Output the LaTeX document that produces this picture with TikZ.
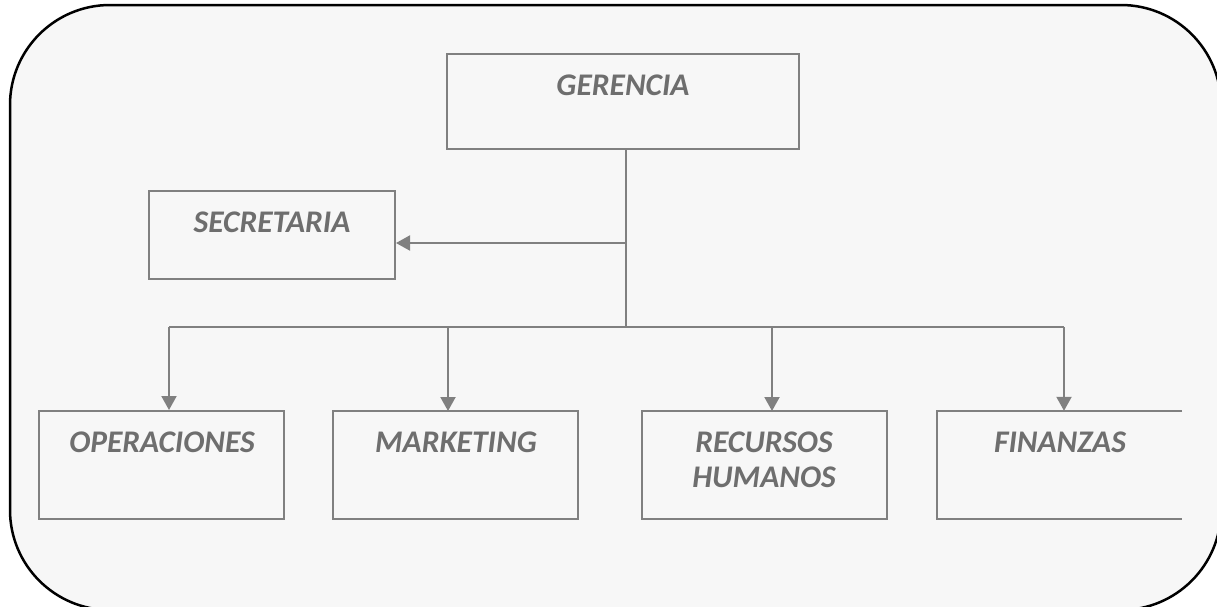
\documentclass[tikz,border=0pt]{standalone}
\usepackage{fontspec}
\setmainfont{Carlito}
\usetikzlibrary{arrows.meta}
\definecolor{bgfill}{HTML}{F7F7F7}
\definecolor{boxgray}{HTML}{808080}
\definecolor{txtgray}{HTML}{6E6E6E}
\tikzset{
  orgbox/.style={draw=boxgray, line width=2pt, rectangle, inner sep=0pt},
  orgtext/.style={anchor=base, text=txtgray, font=\fontsize{31.5}{35}\selectfont\bfseries\itshape, inner sep=0pt, align=center},
  conn/.style={draw=boxgray, line width=2pt},
  arr/.style={conn, -{Triangle[length=14pt,width=15pt]}}
}
\begin{document}
\begin{tikzpicture}[x=1pt,y=-1pt]
\clip (0,0) rectangle (1217,606);
\fill[white] (0,0) rectangle (1217,606);
\draw[black, line width=2.5pt, fill=bgfill, rounded corners=100pt] (10,5) rectangle (1221,610);
% boxes
\node[orgbox, minimum width=352pt, minimum height=95pt] (ger) at (623,101.5) {};
\node[orgbox, minimum width=246pt, minimum height=88pt] (sec) at (272,235) {};
\node[orgbox, minimum width=245pt, minimum height=108pt] (ops) at (161.5,465) {};
\node[orgbox, minimum width=245pt, minimum height=108pt] (mkt) at (455.5,465) {};
\node[orgbox, minimum width=245pt, minimum height=108pt] (rrh) at (764.5,465) {};
\node[inner sep=0pt, minimum width=245pt, minimum height=108pt] (fin) at (1059.5,465) {};
\draw[boxgray, line width=2pt] (fin.north east) -- (fin.north west) -- (fin.south west) -- (fin.south east);
% texts
\node[orgtext] (tger) at (623,95) {GERENCIA};
\node[orgtext] (tsec) at (272,232) {SECRETARIA};
\node[orgtext] (tops) at (162,452) {OPERACIONES};
\node[orgtext] (tmkt) at (456,452) {MARKETING};
\node[orgtext] (trrh1) at (764,452) {RECURSOS};
\node[orgtext] (trrh2) at (764,487) {HUMANOS};
\node[orgtext] (tfin) at (1060,452) {FINANZAS};
% connectors
\coordinate (bus) at (625.5,327);
\coordinate (sj) at (625.5,243);
\draw[conn] (ger.south -| bus) -- (bus);
\draw[arr] (sj) -- (sec.east |- sj);
\coordinate (bl) at (169,327);
\coordinate (br) at (1064,327);
\draw[conn] (bl) -- (br);
\draw[arr] (bl) -- (bl |- ops.north);
\draw[arr] (448,327) -- (448,411);
\draw[arr] (772,327) -- (772,411);
\draw[arr] (br) -- (br |- fin.north);
\end{tikzpicture}
\end{document}
